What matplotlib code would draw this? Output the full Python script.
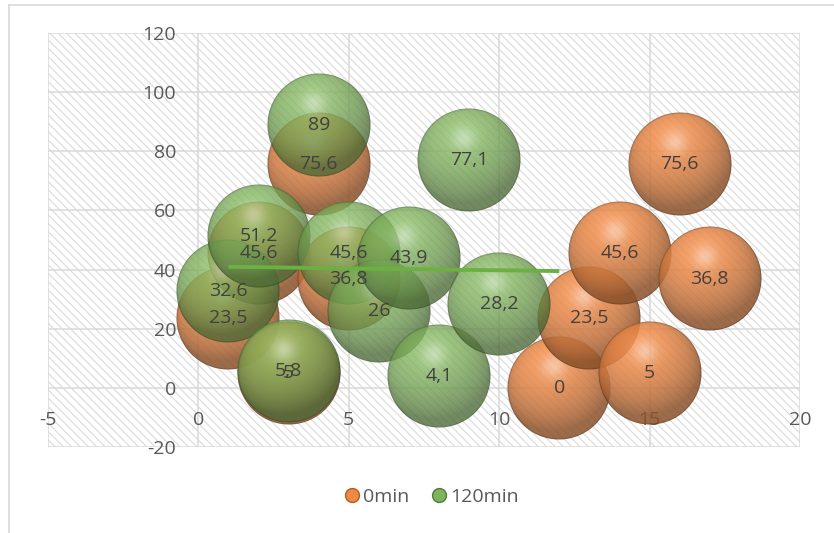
import numpy as np
import matplotlib
matplotlib.use("Agg")
import matplotlib.pyplot as plt
from matplotlib.lines import Line2D
from matplotlib.offsetbox import OffsetImage, AnnotationBbox

plt.rcParams['font.family'] = ['Open Sans', 'DejaVu Sans']
plt.rcParams['axes.unicode_minus'] = False
plt.rcParams['hatch.color'] = '#dadada'
plt.rcParams['hatch.linewidth'] = 0.8

# data
x_0min = [1, 2, 3, 4, 5, 12, 13, 14, 15, 16, 17]
y_0min = [23.5, 45.6, 5, 75.6, 36.8, 0, 23.5, 45.6, 5, 75.6, 36.8]
x_120min = [1, 2, 3, 4, 5, 6, 7, 8, 9, 10]
y_120min = [32.6, 51.2, 5.8, 89, 45.6, 26, 43.9, 4.1, 77.1, 28.2]
series_names = ['0min', '120min']
xticks = [-5, 0, 5, 10, 15, 20]
yticks = [-20, 0, 20, 40, 60, 80, 100, 120]

orange = np.array([237, 138, 72]) / 255
green = np.array([128, 180, 92]) / 255


def sphere(base, n=208, alpha=0.8):
    # shaded ball picture, like the excel 3d bubble
    yy, xx = np.mgrid[-1:1:n * 1j, -1:1:n * 1j]
    v = -yy
    r = np.sqrt(xx ** 2 + yy ** 2)
    nz = np.sqrt(np.clip(1 - r ** 2, 0, 1))
    L = np.array([-0.2, 0.55, 0.8])
    L = L / np.linalg.norm(L)
    diff = np.clip(xx * L[0] + v * L[1] + nz * L[2], 0, 1)
    shade = 0.58 + 0.45 * diff
    rgb = base[None, None, :] * shade[..., None]
    spot = np.exp(-((xx + 0.1) ** 2 + (v - 0.42) ** 2) / 0.05)
    light = base + (1 - base) * 0.6
    rgb = rgb * (1 - 0.7 * spot[..., None]) + light * 0.7 * spot[..., None]
    # thin darker outline
    ring = np.clip((r - 0.965) / 0.02, 0, 1)
    rgb = rgb * (1 - 0.25 * ring[..., None])
    rgb = np.clip(rgb, 0, 1)
    a = alpha * np.clip((1 - r) * n / 2, 0, 1)
    return np.dstack([rgb, a])


fig = plt.figure(figsize=(8.34, 5.33), dpi=100)
ax = fig.add_axes([48 / 834, 86 / 533, 752 / 834, 414 / 533])
ax.patch.set_facecolor('white')
ax.patch.set_edgecolor('#dadada')
ax.patch.set_linewidth(0)
ax.patch.set_hatch('\\\\\\\\')

ax.set_xlim(-5, 20)
ax.set_ylim(-20, 120)
ax.set_xticks(xticks)
ax.set_yticks(yticks)
ax.grid(True, color='#d9d9d9', lw=1.1)
ax.set_axisbelow(True)
for s in ax.spines.values():
    s.set_visible(False)
ax.spines['bottom'].set_position(('data', 0))
ax.spines['left'].set_position(('data', 0))
ax.tick_params(axis='x', length=0, pad=17, labelsize=14, labelcolor='#595959')
ax.tick_params(axis='y', length=0, pad=16, labelsize=14, labelcolor='#595959')

img_or = sphere(orange, alpha=0.85)
img_gr = sphere(green, alpha=0.78)

for xs, ys, img, z in [(x_0min, y_0min, img_or, 3), (x_120min, y_120min, img_gr, 4)]:
    for xv, yv in zip(xs, ys):
        oi = OffsetImage(img, zoom=0.5, dpi_cor=False, interpolation='antialiased')
        ab = AnnotationBbox(oi, (xv, yv), xycoords='data', frameon=False, pad=0,
                            box_alignment=(0.5, 0.5))
        ab.set_zorder(z)
        ax.add_artist(ab)

# linear trendline of 120min, forecast forward 2
k, b = np.polyfit(x_120min, y_120min, 1)
xt = np.array([min(x_120min), max(x_120min) + 2])
ax.plot(xt, k * xt + b, color='#6cb043', lw=2.8, solid_capstyle='butt', zorder=6)

for xs, ys in [(x_0min, y_0min), (x_120min, y_120min)]:
    for xv, yv in zip(xs, ys):
        ax.text(xv, yv, f"{yv:g}".replace('.', ','), ha='center', va='center',
                fontsize=14, color='#404040', zorder=10)

handles = [Line2D([], [], ls='', marker='o', ms=10, mfc=orange, mec='#b35a1f'),
           Line2D([], [], ls='', marker='o', ms=10, mfc=green, mec='#4f7d32')]
fig.legend(handles, series_names, loc='center', bbox_to_anchor=(0.516, 0.068), ncol=2,
           frameon=False, fontsize=14, labelcolor='#595959', handletextpad=0.1,
           columnspacing=1.0, handlelength=1.0)

# chart frame (cut at right and bottom)
fig.add_artist(Line2D([8.5 / 834, 8.5 / 834], [0, 1 - 5 / 533], transform=fig.transFigure,
                      color='#d9d9d9', lw=1.2))
fig.add_artist(Line2D([8.5 / 834, 1], [1 - 5 / 533, 1 - 5 / 533], transform=fig.transFigure,
                      color='#d9d9d9', lw=1.2))

fig.savefig('out.png', dpi=100)
